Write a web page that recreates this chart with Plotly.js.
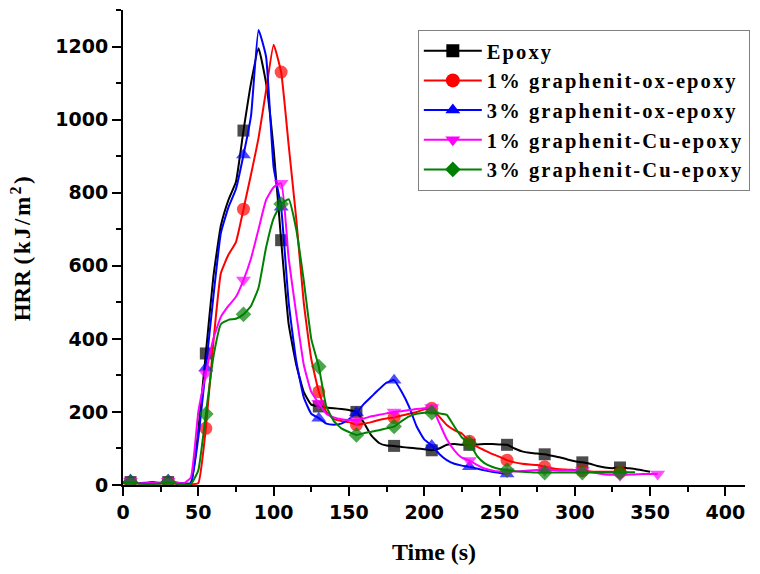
<!DOCTYPE html>
<html>
<head>
<meta charset="utf-8">
<script src="https://cdn.plot.ly/plotly-3.0.1.min.js"></script>
<style>
html,body{margin:0;padding:0;background:#fff;}
.legendtext{letter-spacing:2.1px;}
</style>
</head>
<body>
<div id="chart" style="width:760px;height:574px;"></div>
<script>
// Time axis (s), 5 s sampling
const seriesNames = ["Epoxy", "1% graphenit-ox-epoxy", "3% graphenit-ox-epoxy", "1% graphenit-Cu-epoxy", "3% graphenit-Cu-epoxy"];

const epoxyHRR = [5,8,5,5,6,5,8,5,4,5,150,360,570,710,780,830,970,1100,1195,1100,920,670,440,330,255,220,215,212,210,208,205,200,170,135,115,108,107,104,102,100,98,95,100,110,112,110,110,111,112,112,111,110,100,92,88,86,84,80,76,70,65,62,58,52,48,46,48,46,44,40,36];
const oxEpoxy1HRR = [5,8,5,4,4,5,8,4,3,2,5,155,390,580,630,665,755,850,950,1080,1205,1130,930,730,500,345,255,200,180,175,172,165,168,172,178,182,185,190,195,200,207,210,187,164,150,141,120,105,95,85,77,68,62,58,56,55,50,46,43,42,41,39,37,36,36,36,35,34];
const oxEpoxy3HRR = [8,14,5,6,8,6,14,5,4,5,130,320,515,690,760,810,903,1010,1245,1172,870,760,500,340,240,195,183,168,165,168,180,198,222,242,262,280,287,255,214,160,125,108,85,68,58,53,50,45,40,36,33,30];
const cuEpoxy1HRR = [8,10,5,5,6,5,10,8,4,20,200,305,400,460,490,515,561,620,700,780,815,826,620,470,330,255,224,195,185,180,178,178,182,188,192,196,200,202,205,208,210,212,170,125,95,75,67,55,45,40,37,36,37,38,40,41,41,41,40,40,40,40,36,32,29,28,27,28,29,30,30,30];
const cuEpoxy3HRR = [8,8,4,3,3,4,8,4,2,2,40,194,350,440,452,455,467,490,540,650,730,769,782,700,560,400,324,215,175,155,145,137,142,146,150,155,160,175,188,195,198,198,196,192,160,130,114,80,60,50,44,41,38,36,35,34,34,34,34,34,34,34,34,34,34,34,34,35,35];

const xTickVals = [0,50,100,150,200,250,300,350,400];
const yTickVals = [0,200,400,600,800,1000,1200];

const colors = ["#000000", "#ff0000", "#0000ff", "#ff00ff", "#008000"];
const symbols = ["square", "circle", "triangle-up", "triangle-down", "diamond"];
const markSizes = [12, 13, 13, 13, 12];
const legendSizes = [13, 14, 13, 13, 12];
const allSeries = [epoxyHRR, oxEpoxy1HRR, oxEpoxy3HRR, cuEpoxy1HRR, cuEpoxy3HRR];

const traces = allSeries.map((vals, i) => {
  const t = vals.map((_, k) => k * 5);
  const sizes = t.map(tt => ((tt - 5) % 25 === 0 ? markSizes[i] : 0));
  return {
    x: t, y: vals, name: seriesNames[i], type: "scatter", mode: "lines+markers",
    showlegend: false, legendgroup: "g" + i,
    line: {color: colors[i], width: 2, shape: "spline", smoothing: 0.4},
    marker: {symbol: symbols[i], color: colors[i], size: sizes, line: {width: 0}}
  };
});
// legend entries (no data of their own)
const legendTraces = seriesNames.map((nm, i) => ({
  x: [null], y: [null], name: nm, type: "scatter", mode: "lines+markers",
  legendgroup: "g" + i, showlegend: true,
  line: {color: colors[i], width: 2},
  marker: {symbol: symbols[i], color: colors[i], size: legendSizes[i], line: {width: 0}}
}));

const tickFont = {family: "DejaVu Sans", size: 19, color: "#000", weight: "bold"};
const titleFont = {family: "Liberation Serif", size: 24, color: "#000", weight: "bold"};

const layout = {
  width: 760, height: 574,
  margin: {l: 123, r: 15, t: 10, b: 89},
  paper_bgcolor: "#fff", plot_bgcolor: "#fff",
  showlegend: true,
  legend: {
    x: 0.474, y: 0.958, xanchor: "left", yanchor: "top",
    bordercolor: "#808080", borderwidth: 1, bgcolor: "#fff",
    font: {family: "Liberation Serif", size: 20.5, color: "#000", weight: "bold"},
    itemwidth: 58, tracegroupgap: 0, traceorder: "normal"
  },
  xaxis: {
    range: [0, 413], tickvals: xTickVals, ticks: "outside", ticklen: 9, tickwidth: 2,
    tickcolor: "#000", showline: true, linecolor: "#000", linewidth: 2,
    showgrid: false, zeroline: false, tickfont: tickFont,
    minor: {dtick: 25, tick0: 0, ticks: "outside", ticklen: 5, tickwidth: 2, tickcolor: "#000", showgrid: false},
    title: {text: "Time (s)", font: titleFont, standoff: 21}
  },
  yaxis: {
    range: [0, 1300], tickvals: yTickVals, ticks: "outside", ticklen: 9, tickwidth: 2,
    tickcolor: "#000", showline: true, linecolor: "#000", linewidth: 2,
    showgrid: false, zeroline: false, tickfont: tickFont,
    minor: {dtick: 100, tick0: 0, ticks: "outside", ticklen: 5, tickwidth: 2, tickcolor: "#000", showgrid: false},
    title: {text: "HRR <span style='letter-spacing:2.5px'>(kJ/m<sup>2</sup>)</span>", font: {family: "Liberation Serif", size: 23, color: "#000", weight: "bold"}, standoff: 18}
  }
};

Plotly.newPlot("chart", traces.concat(legendTraces), layout, {displayModeBar: false, staticPlot: true});
</script>
</body>
</html>
